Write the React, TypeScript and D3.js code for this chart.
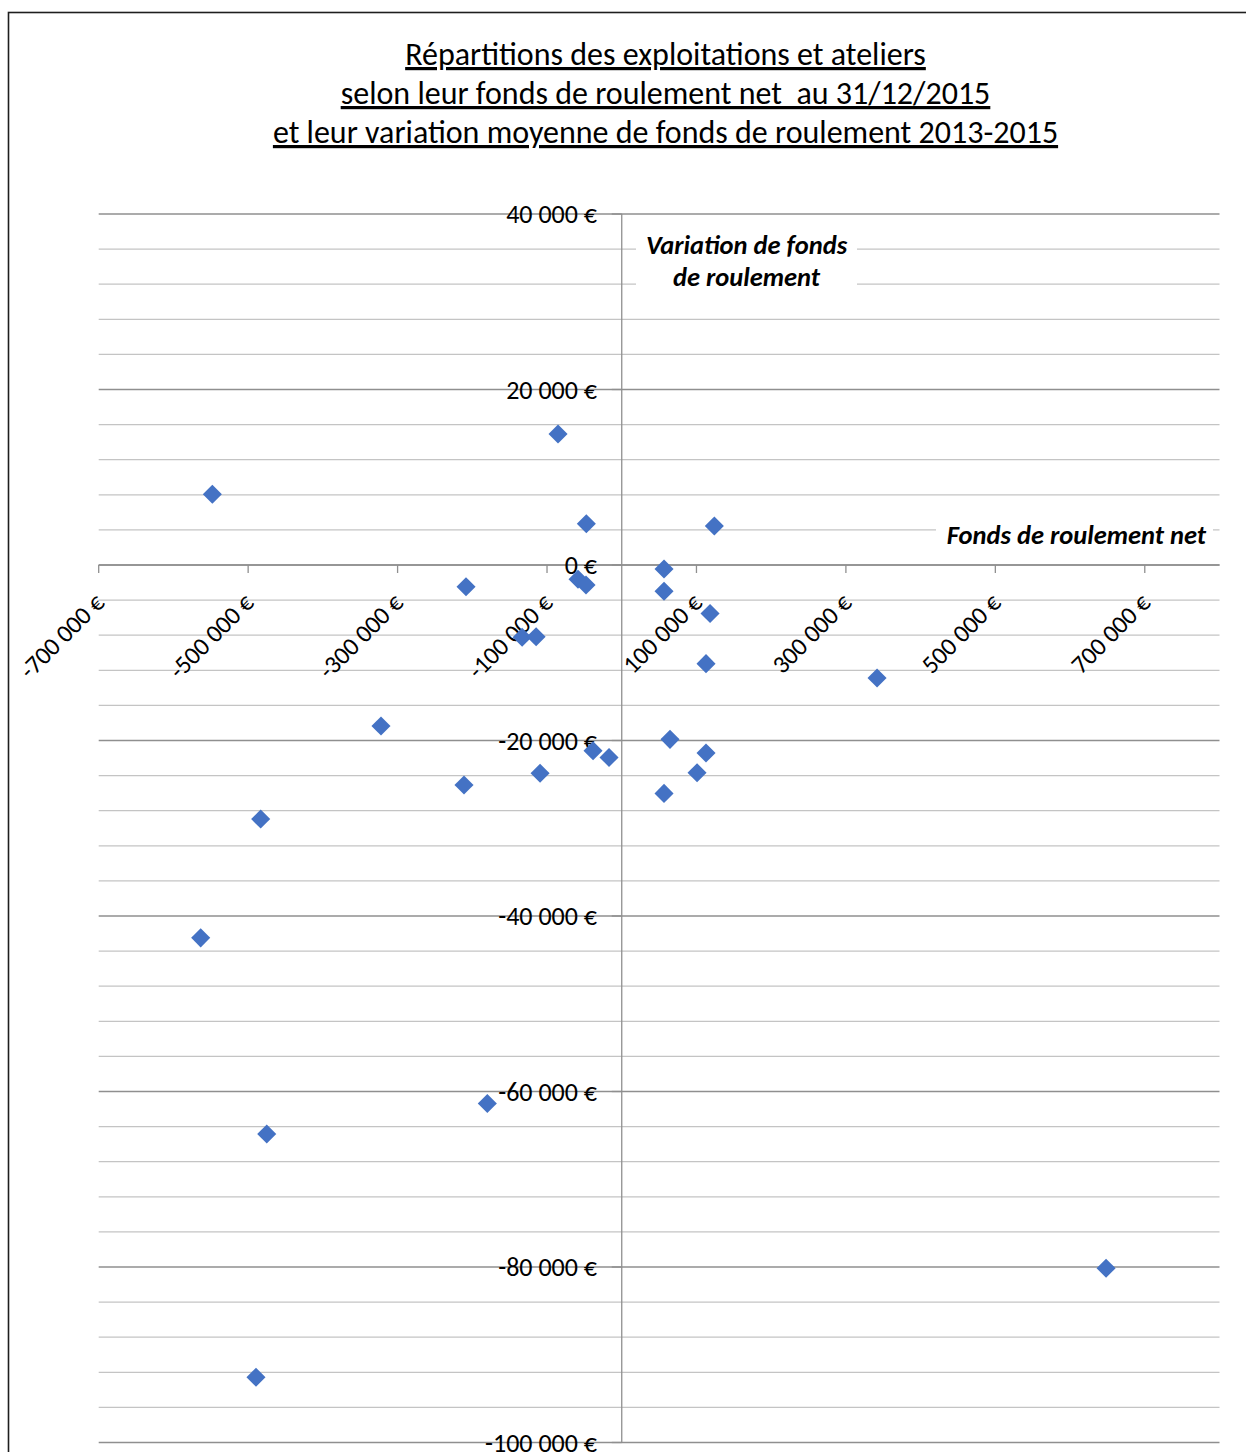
import React from "react";
import * as d3 from "d3";

// Data: Fonds de roulement net (x) and variation moyenne de fonds de roulement (y)
const fondsRoulementNet = [
  -547900, -85260, -47380, 123940, 56600, -208400, -58500, -47800, 56600, 118200,
  -133300, -114600, 112800, 341700, -322200, 64600, -38400, -17000, 112800, -109300,
  100800, -211100, 56600, -483200, -563500, -179900, -475100, 648200, -489500,
];
const variationFondsRoulement = [
  8060, 14934, 4708, 4446, -450, -2470, -1630, -2280, -3000, -5530,
  -8240, -8170, -11240, -12880, -18350, -19870, -21160, -21930, -21430, -23740,
  -23670, -25080, -26030, -28950, -42490, -61360, -64850, -80140, -92570,
];

const xTickValues = [-700000, -500000, -300000, -100000, 100000, 300000, 500000, 700000];
const yMajorTicks = [40000, 20000, 0, -20000, -40000, -60000, -80000, -100000];
const xDomain = [-700000, 800000];
const yDomain = [-100000, 40000];
const yMinorStep = 4000;

const titleLines = [
  "Répartitions des exploitations et ateliers",
  "selon leur fonds de roulement net  au 31/12/2015",
  "et leur variation moyenne de fonds de roulement 2013-2015",
];
const yAxisTitle = ["Variation de fonds", "de roulement"];
const xAxisTitle = "Fonds de roulement net";

const FONT = "Carlito, Calibri, Lato, sans-serif";

export default function App() {
  const W = 1246;
  const H = 1452;
  const x = d3.scaleLinear().domain(xDomain).range([98.7, 1219.5]);
  const y = d3.scaleLinear().domain(yDomain).range([1442.5, 214]);

  const locale = d3.formatLocale({
    decimal: ",",
    thousands: " ",
    grouping: [3],
    currency: ["", " €"],
    minus: "-",
  } as any);
  const fmt = (v: number) => locale.format(",.0f")(v) + " €";

  const minorTicks = d3.range(yDomain[0], yDomain[1] + 1, yMinorStep).filter(
    (v) => !yMajorTicks.includes(v)
  );

  const x0 = x(0);
  const y0 = y(0);
  const symbol = d3.symbol().type(d3.symbolSquare).size(182)();

  const majorColor = "#8f8f8f";
  const minorColor = "#c4c4c4";

  return (
    <div style={{ position: "absolute", left: 0, top: 0, width: W, height: H }}>
      <svg width={W} height={H} style={{ display: "block", fontFamily: FONT }}>
        <rect x={0} y={0} width={W} height={H} fill="#fff" />
        <rect x={8.5} y={12.5} width={1400} height={1600} fill="none" stroke="#1e1e1e" strokeWidth={1.6} />

        {/* Title */}
        {titleLines.map((t, i) => (
          <text
            key={i}
            x={665.5}
            y={65 + i * 39}
            textAnchor="middle"
            fontSize={32}
            fill="#000"
            textDecoration="underline"
            style={{ whiteSpace: "pre" }}
          >
            {t}
          </text>
        ))}

        {/* Minor gridlines */}
        {minorTicks.map((v) => (
          <line key={"mi" + v} x1={x(xDomain[0])} x2={x(xDomain[1])} y1={y(v)} y2={y(v)} stroke={minorColor} strokeWidth={1.2} />
        ))}
        {/* Major gridlines */}
        {yMajorTicks.map((v) => (
          <line key={"ma" + v} x1={x(xDomain[0])} x2={x(xDomain[1])} y1={y(v)} y2={y(v)} stroke={majorColor} strokeWidth={1.3} />
        ))}

        {/* Y axis */}
        <line x1={x0} x2={x0} y1={y(yDomain[1])} y2={y(yDomain[0])} stroke={majorColor} strokeWidth={1.3} />
        {yMajorTicks.map((v) => (
          <line key={"yt" + v} x1={x0 - 10} x2={x0} y1={y(v)} y2={y(v)} stroke={majorColor} strokeWidth={1.3} />
        ))}
        {/* X axis */}
        <line x1={x(xDomain[0])} x2={x(xDomain[1])} y1={y0} y2={y0} stroke={majorColor} strokeWidth={1.3} />
        {xTickValues.map((v) => (
          <line key={"xt" + v} x1={x(v)} x2={x(v)} y1={y0} y2={y0 + 8} stroke={majorColor} strokeWidth={1.3} />
        ))}

        {/* Axis title backgrounds + titles */}
        <rect x={636} y={229} width={221} height={70} fill="#fff" />
        {yAxisTitle.map((t, i) => (
          <text key={i} x={746.5} y={254 + i * 32} textAnchor="middle" fontSize={26.5} fontWeight="bold" fontStyle="italic" fill="#000">
            {t}
          </text>
        ))}
        <rect x={936} y={518} width={277} height={34} fill="#fff" />
        <text x={1206} y={544} textAnchor="end" fontSize={26.5} fontWeight="bold" fontStyle="italic" fill="#000">
          {xAxisTitle}
        </text>

        {/* Y tick labels */}
        {yMajorTicks.map((v) => (
          <text key={"yl" + v} x={597} y={y(v)} dy="0.35em" textAnchor="end" fontSize={26} fill="#000">
            {fmt(v)}
          </text>
        ))}
        {/* X tick labels */}
        {xTickValues.map((v) => (
          <text
            key={"xl" + v}
            transform={`translate(${x(v) + 1},${598}) rotate(-45)`}
            dy="0.35em"
            textAnchor="end"
            fontSize={25}
            fill="#000"
          >
            {fmt(v)}
          </text>
        ))}

        {/* Points */}
        {fondsRoulementNet.map((v, i) => (
          <path
            key={"p" + i}
            d={symbol || ""}
            transform={`translate(${x(v)},${y(variationFondsRoulement[i])}) rotate(45)`}
            fill="#4472c4"
          />
        ))}
      </svg>
    </div>
  );
}
